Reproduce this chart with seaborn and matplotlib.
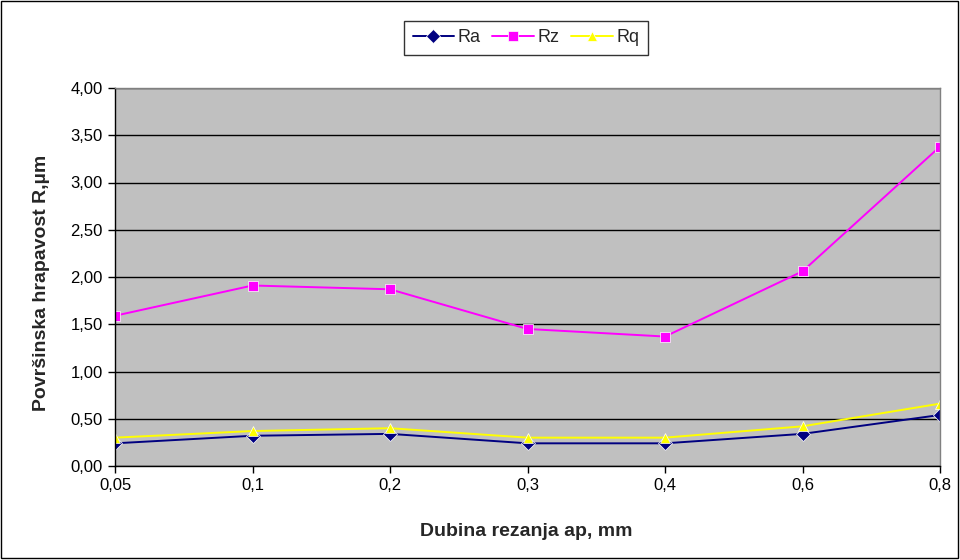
import matplotlib
matplotlib.use("Agg")
import matplotlib.pyplot as plt
from matplotlib.patches import Rectangle
from matplotlib.ticker import FuncFormatter, MultipleLocator
import seaborn as sns
import pandas as pd

categories = ["0,05", "0,1", "0,2", "0,3", "0,4", "0,6", "0,8"]
ra = [0.24, 0.32, 0.34, 0.24, 0.24, 0.34, 0.54]
rz = [1.59, 1.91, 1.87, 1.45, 1.37, 2.06, 3.38]
rq = [0.30, 0.37, 0.40, 0.30, 0.30, 0.42, 0.66]
series_names = ["Ra", "Rz", "Rq"]
colors = {"Ra": "#000080", "Rz": "#FF00FF", "Rq": "#FFFF00"}
markers = {"Ra": "D", "Rz": "s", "Rq": "^"}

rows = []
for name, vals in zip(series_names, [ra, rz, rq]):
    for c, v in zip(categories, vals):
        rows.append({"ap": c, "R": v, "series": name})
df = pd.DataFrame(rows)

sns.set_theme(style="white")
plt.rcParams["font.family"] = ["Liberation Sans", "DejaVu Sans"]

fig = plt.figure(figsize=(9.6, 5.6), dpi=100)
ax = fig.add_axes([115/960, 1-466/560, (940-115)/960, (466-88)/560])
ax.set_facecolor("#C0C0C0")

sns.lineplot(data=df, x="ap", y="R", hue="series", style="series",
             hue_order=series_names, style_order=series_names,
             palette=colors, markers=markers, dashes=False,
             markersize=7.5, linewidth=1.4, markeredgewidth=0.5, ax=ax, sort=False)

ax.set_xlim(0, len(categories) - 1)
ax.set_ylim(0, 4.0)
ax.yaxis.set_major_locator(MultipleLocator(0.5))
ax.yaxis.set_major_formatter(FuncFormatter(lambda v, p: f"{v:.2f}".replace(".", ",")))
ax.set_xticks(range(len(categories)))
ax.set_xticklabels(categories)
ax.grid(axis="y", color="black", linewidth=1.0)
ax.set_axisbelow(True)
ax.tick_params(axis="both", direction="out", length=5, width=1, color="black",
               labelsize=12, labelcolor="black", left=True, bottom=True, pad=4)

for side in ["left", "bottom"]:
    ax.spines[side].set_color("black")
    ax.spines[side].set_linewidth(1.0)
for side in ["top", "right"]:
    ax.spines[side].set_color("#808080")
    ax.spines[side].set_linewidth(1.0)

ax.set_xlabel("Dubina rezanja ap, mm", fontsize=14, fontweight="bold", va="center")
ax.xaxis.set_label_coords((526-115)/825, -(532-466)/378)
ax.set_ylabel("Površinska hrapavost R,µm", fontsize=14, fontweight="bold", va="center")
ax.yaxis.set_label_coords(-(115-42)/825, (466-283)/378)

handles, labels = ax.get_legend_handles_labels()
leg = ax.legend(handles, labels, loc="center", bbox_to_anchor=(526/960, 1-38/560),
                bbox_transform=fig.transFigure, ncol=3, frameon=True, fontsize=13,
                handlelength=2.3, handletextpad=0.2, columnspacing=0.65,
                borderpad=0.45, fancybox=False)
leg.get_frame().set_edgecolor("black")
leg.get_frame().set_linewidth(1.0)
leg.get_frame().set_facecolor("white")

fig.patches.append(Rectangle((0.001, 0.004), 0.997, 0.994, transform=fig.transFigure,
                             fill=False, edgecolor="black", linewidth=1.0))

fig.savefig("out.png", dpi=100)
